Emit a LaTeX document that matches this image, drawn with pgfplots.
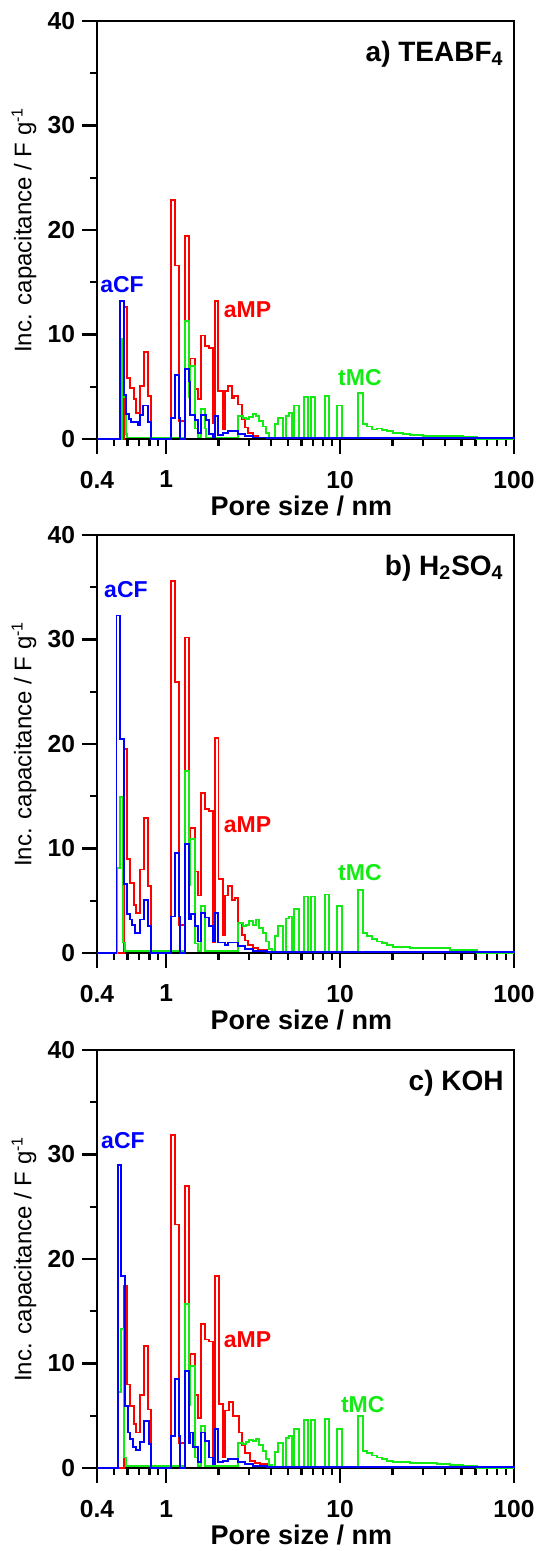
\documentclass[border=0pt]{standalone}
\usepackage{fontspec}
\setmainfont{Liberation Sans}
\usepackage{pgfplots}
\pgfplotsset{compat=1.18}
\definecolor{cfblue}{RGB}{0,0,255}
\definecolor{mpred}{RGB}{255,0,0}
\definecolor{mcgreen}{RGB}{20,235,20}

\pgfplotsset{
  psd/.style={
    scale only axis, width=208.5pt, height=209pt,
    xmin=0.4, xmax=100, ymin=0, ymax=40,
    xtick={0.4,1,10,100}, xticklabels={0.4,1,10,100},
    minor xtick={0.5,0.6,0.7,0.8,0.9,2,3,4,5,6,7,8,9,20,30,40,50,60,70,80,90},
    ytick={0,10,20,30,40}, minor ytick={5,15,25,35},
    xtick pos=left, ytick pos=left, tick align=outside,
    major tick length=7.5pt, minor tick length=3.5pt,
    every tick/.style={black, line width=1.2pt},
    axis line style={line width=1.3pt},
    tick label style={font=\fontsize{12.3}{14}\selectfont\bfseries},
    xticklabel style={yshift=-5pt},
    xlabel={Pore size / nm},
    xlabel style={font=\fontsize{13.5}{16}\selectfont\bfseries, at={(axis description cs:0.49,-0.16)}, anchor=center},
    ylabel={Inc. capacitance / F g\textsuperscript{-1}},
    ylabel style={font=\fontsize{12}{14}\selectfont, at={(axis description cs:-0.175,0.5)}, anchor=center},
    clip=false,
    /pgf/number format/assume math mode=true,
  },
  cf/.style={cfblue, line width=0.9pt, const plot mark left, mark=none},
  mp/.style={mpred, line width=0.9pt, const plot mark left, mark=none},
  mc/.style={mcgreen, line width=0.9pt, const plot mark left, mark=none},
}
\tikzset{
  lab/.style={font=\fontsize{11.5}{13}\selectfont\bfseries, anchor=center},
  ttl/.style={font=\fontsize{14}{16}\selectfont\bfseries, anchor=base east},
}

\begin{document}
\begin{tikzpicture}

% ---------- a) TEABF4 ----------
\begin{semilogxaxis}[psd, at={(0,0)}, anchor=north west]
\addplot[mp] coordinates {(0.4,0) (0.570,12.6) (0.595,5.8) (0.622,4.9) (0.650,3.8) (0.673,2.5) (0.710,5.1) (0.742,8.3) (0.786,4.1) (0.821,0)
  (1.070,22.9) (1.119,16.6) (1.180,1.7) (1.283,19.4) (1.347,5.7) (1.370,7.7) (1.464,4.8) (1.530,3.8) (1.585,9.9) (1.678,8.9) (1.769,8.7) (1.850,1.5)
  (1.908,13.2) (1.994,4.6) (2.113,0.9) (2.178,4.6) (2.276,5.1) (2.380,3.9) (2.464,4.1) (2.598,3.3) (2.717,1.9) (2.839,1.1) (2.966,0.6) (3.168,0.3)
  (3.385,0.15) (3.784,0.08) (70,0) (100,0)};
\addplot[mc] coordinates {(0.4,0) (0.559,9.6) (0.570,4.0) (0.585,0.5) (0.595,0.15) (1.278,11.3) (1.347,4.0) (1.370,7.0) (1.464,1.0) (1.530,0.15)
  (1.585,2.9) (1.678,1.0) (1.694,0.15) (2.598,2.2) (2.754,2.0) (2.877,1.9) (3.005,2.1) (3.144,2.4) (3.284,2.2) (3.430,1.7) (3.589,1.2) (3.749,0.6)
  (3.916,0.1) (4.223,1.4) (4.412,2.0) (4.677,0.1) (4.886,2.2) (5.104,2.5) (5.269,0.1) (5.453,3.2) (5.826,0.1) (6.200,4.0) (6.564,0.1) (6.802,4.0)
  (7.201,0.1) (8.190,4.1) (8.635,0.1) (9.636,3.2) (10.25,0.1) (12.73,4.4) (13.49,1.4) (14.22,1.2) (15.20,0.9) (16.23,1.0) (17.35,0.85) (18.53,0.75)
  (20.23,0.55) (23.10,0.45) (25.23,0.35) (30.10,0.3) (35.94,0.3) (42.86,0.25) (51.10,0.2) (61.03,0) (100,0)};
\addplot[cf] coordinates {(0.4,0) (0.545,13.2) (0.570,4.2) (0.590,2.4) (0.609,1.9) (0.628,1.6) (0.688,1.3) (0.710,2.3) (0.736,3.2) (0.786,1.6) (0.821,0)
  (1.070,2.0) (1.119,6.1) (1.180,2.0) (1.200,0) (1.278,6.7) (1.347,5.5) (1.370,2.3) (1.464,1.8) (1.530,0.6) (1.585,2.3) (1.694,1.8) (1.769,0.5)
  (1.850,0.2) (1.908,2.2) (1.994,0.4) (2.113,0.6) (2.276,0.8) (2.598,0.5) (2.839,0.3) (3.168,0.15) (3.784,0.1) (100,0.05)};
\node[lab, cfblue] at (axis cs:0.557,14.8) {aCF};
\node[lab, mpred] at (axis cs:2.935,12.4) {aMP};
\node[lab, mcgreen] at (axis cs:13.0,5.9) {tMC};
\node[ttl] at (rel axis cs:0.992,0.904) {a) TEABF\textsubscript{4}};
\end{semilogxaxis}

% ---------- b) H2SO4 ----------
\begin{semilogxaxis}[psd, at={(0,-257pt)}, anchor=north west]
\addplot[mp] coordinates {(0.4,0) (0.570,19.5) (0.595,9.0) (0.622,6.7) (0.650,4.6) (0.673,3.8) (0.710,8.0) (0.742,12.9) (0.786,6.4) (0.821,0)
  (1.070,35.6) (1.119,25.9) (1.180,2.7) (1.278,30.2) (1.347,9.0) (1.370,12.0) (1.464,7.8) (1.530,5.5) (1.585,15.3) (1.678,13.8) (1.769,13.6) (1.850,1.0)
  (1.908,20.6) (2.000,7.1) (2.113,1.7) (2.178,5.5) (2.276,6.4) (2.380,5.1) (2.487,5.3) (2.598,2.9) (2.717,1.7) (2.839,1.2) (2.966,0.8) (3.168,0.5)
  (3.385,0.3) (3.784,0.1) (70,0) (100,0)};
\addplot[mc] coordinates {(0.4,0) (0.519,8.1) (0.542,14.9) (0.567,1.0) (0.580,0.2) (1.278,17.4) (1.347,6.5) (1.370,10.9) (1.464,0.9) (1.530,0.2)
  (1.585,4.5) (1.678,0.2) (2.598,2.9) (2.754,2.6) (2.877,2.7) (3.005,3.1) (3.144,2.7) (3.284,3.2) (3.430,2.4) (3.589,1.9) (3.749,1.1) (3.916,0.4)
  (4.043,0.15) (4.223,1.6) (4.412,2.6) (4.677,0.15) (4.886,3.3) (5.104,3.5) (5.269,0.15) (5.453,4.2) (5.826,0.15) (6.200,5.4) (6.564,0.15) (6.802,5.4)
  (7.201,0.15) (8.190,5.6) (8.635,0.15) (9.636,4.5) (10.25,0.15) (12.73,6.0) (13.49,1.9) (14.22,1.6) (15.20,1.35) (16.23,1.1) (17.35,0.93) (18.53,0.75)
  (20.23,0.6) (23.10,0.6) (25.23,0.5) (30.10,0.5) (35.94,0.45) (42.86,0.3) (51.10,0.25) (61.03,0) (100,0)};
\addplot[cf] coordinates {(0.4,0) (0.518,32.3) (0.545,20.5) (0.570,6.6) (0.595,3.7) (0.617,3.2) (0.636,2.7) (0.659,1.9) (0.710,3.2) (0.742,5.1) (0.786,2.6) (0.821,0)
  (1.070,3.5) (1.119,9.6) (1.180,3.5) (1.200,0) (1.278,10.4) (1.347,3.2) (1.394,3.7) (1.464,2.6) (1.530,1.1) (1.585,3.8) (1.678,3.4) (1.769,2.6)
  (1.850,1.1) (1.908,3.8) (1.994,1.0) (2.178,0.8) (2.276,1.0) (2.598,0.7) (2.839,0.4) (3.168,0.2) (3.784,0.1) (100,0.05)};
\node[lab, cfblue] at (axis cs:0.587,34.8) {aCF};
\node[lab, mpred] at (axis cs:2.935,12.3) {aMP};
\node[lab, mcgreen] at (axis cs:13.0,7.7) {tMC};
\node[ttl] at (rel axis cs:0.992,0.904) {b) H\textsubscript{2}SO\textsubscript{4}};
\end{semilogxaxis}

% ---------- c) KOH ----------
\begin{semilogxaxis}[psd, at={(0,-514.5pt)}, anchor=north west]
\addplot[mp] coordinates {(0.4,0) (0.570,17.4) (0.595,8.0) (0.622,5.9) (0.650,4.2) (0.673,3.4) (0.710,7.0) (0.742,11.7) (0.786,5.6) (0.821,0)
  (1.070,31.9) (1.119,23.3) (1.180,2.4) (1.278,27.0) (1.347,8.0) (1.370,10.9) (1.464,7.0) (1.530,4.8) (1.585,13.8) (1.678,12.3) (1.769,12.1) (1.850,1.0)
  (1.908,18.4) (2.020,6.1) (2.130,1.0) (2.178,5.5) (2.306,6.3) (2.412,5.0) (2.510,5.0) (2.622,3.4) (2.717,2.2) (2.839,1.4) (3.033,0.7) (3.241,0.5)
  (3.463,0.4) (3.784,0.1) (70,0) (100,0)};
\addplot[mc] coordinates {(0.4,0) (0.530,7.3) (0.547,13.3) (0.572,1.0) (0.587,0.2) (1.278,15.7) (1.347,6.0) (1.370,9.8) (1.464,1.0) (1.530,0.2)
  (1.585,4.0) (1.678,0.2) (2.598,2.4) (2.754,2.3) (2.877,2.5) (3.005,2.7) (3.144,2.6) (3.284,2.8) (3.430,2.2) (3.589,1.6) (3.749,0.9) (3.916,0.3)
  (4.043,0.15) (4.223,1.5) (4.412,2.4) (4.677,0.15) (4.886,2.9) (5.104,3.1) (5.269,0.15) (5.453,3.7) (5.826,0.15) (6.200,4.6) (6.564,0.15) (6.802,4.6)
  (7.201,0.15) (8.190,4.7) (8.635,0.15) (9.636,3.7) (10.25,0.15) (12.73,5.0) (13.49,1.6) (14.22,1.4) (15.20,1.2) (16.23,1.0) (17.35,0.85) (18.53,0.7)
  (20.23,0.6) (23.10,0.55) (25.23,0.5) (30.10,0.45) (35.94,0.4) (42.86,0.3) (51.10,0.25) (61.03,0) (100,0)};
\addplot[cf] coordinates {(0.4,0) (0.530,29.0) (0.552,18.4) (0.577,5.9) (0.603,3.4) (0.622,2.8) (0.644,2.0) (0.673,1.7) (0.710,2.5) (0.742,4.5) (0.793,2.3) (0.821,0)
  (1.070,3.1) (1.119,8.5) (1.180,3.1) (1.200,0) (1.278,9.3) (1.347,2.4) (1.370,3.4) (1.426,2.0) (1.530,0.6) (1.585,3.4) (1.678,2.6) (1.769,1.0)
  (1.850,0.4) (1.908,3.7) (1.994,0.6) (2.113,0.7) (2.276,0.9) (2.598,0.6) (2.839,0.35) (3.168,0.2) (3.784,0.1) (100,0.05)};
\node[lab, cfblue] at (axis cs:0.564,31.3) {aCF};
\node[lab, mpred] at (axis cs:2.935,12.3) {aMP};
\node[lab, mcgreen] at (axis cs:13.5,6.1) {tMC};
\node[ttl] at (rel axis cs:0.992,0.904) {c) KOH};
\end{semilogxaxis}

\pgfresetboundingbox
\path[use as bounding box] (-48.5pt,-765pt) rectangle (222pt,10.5pt);
\end{tikzpicture}
\end{document}
